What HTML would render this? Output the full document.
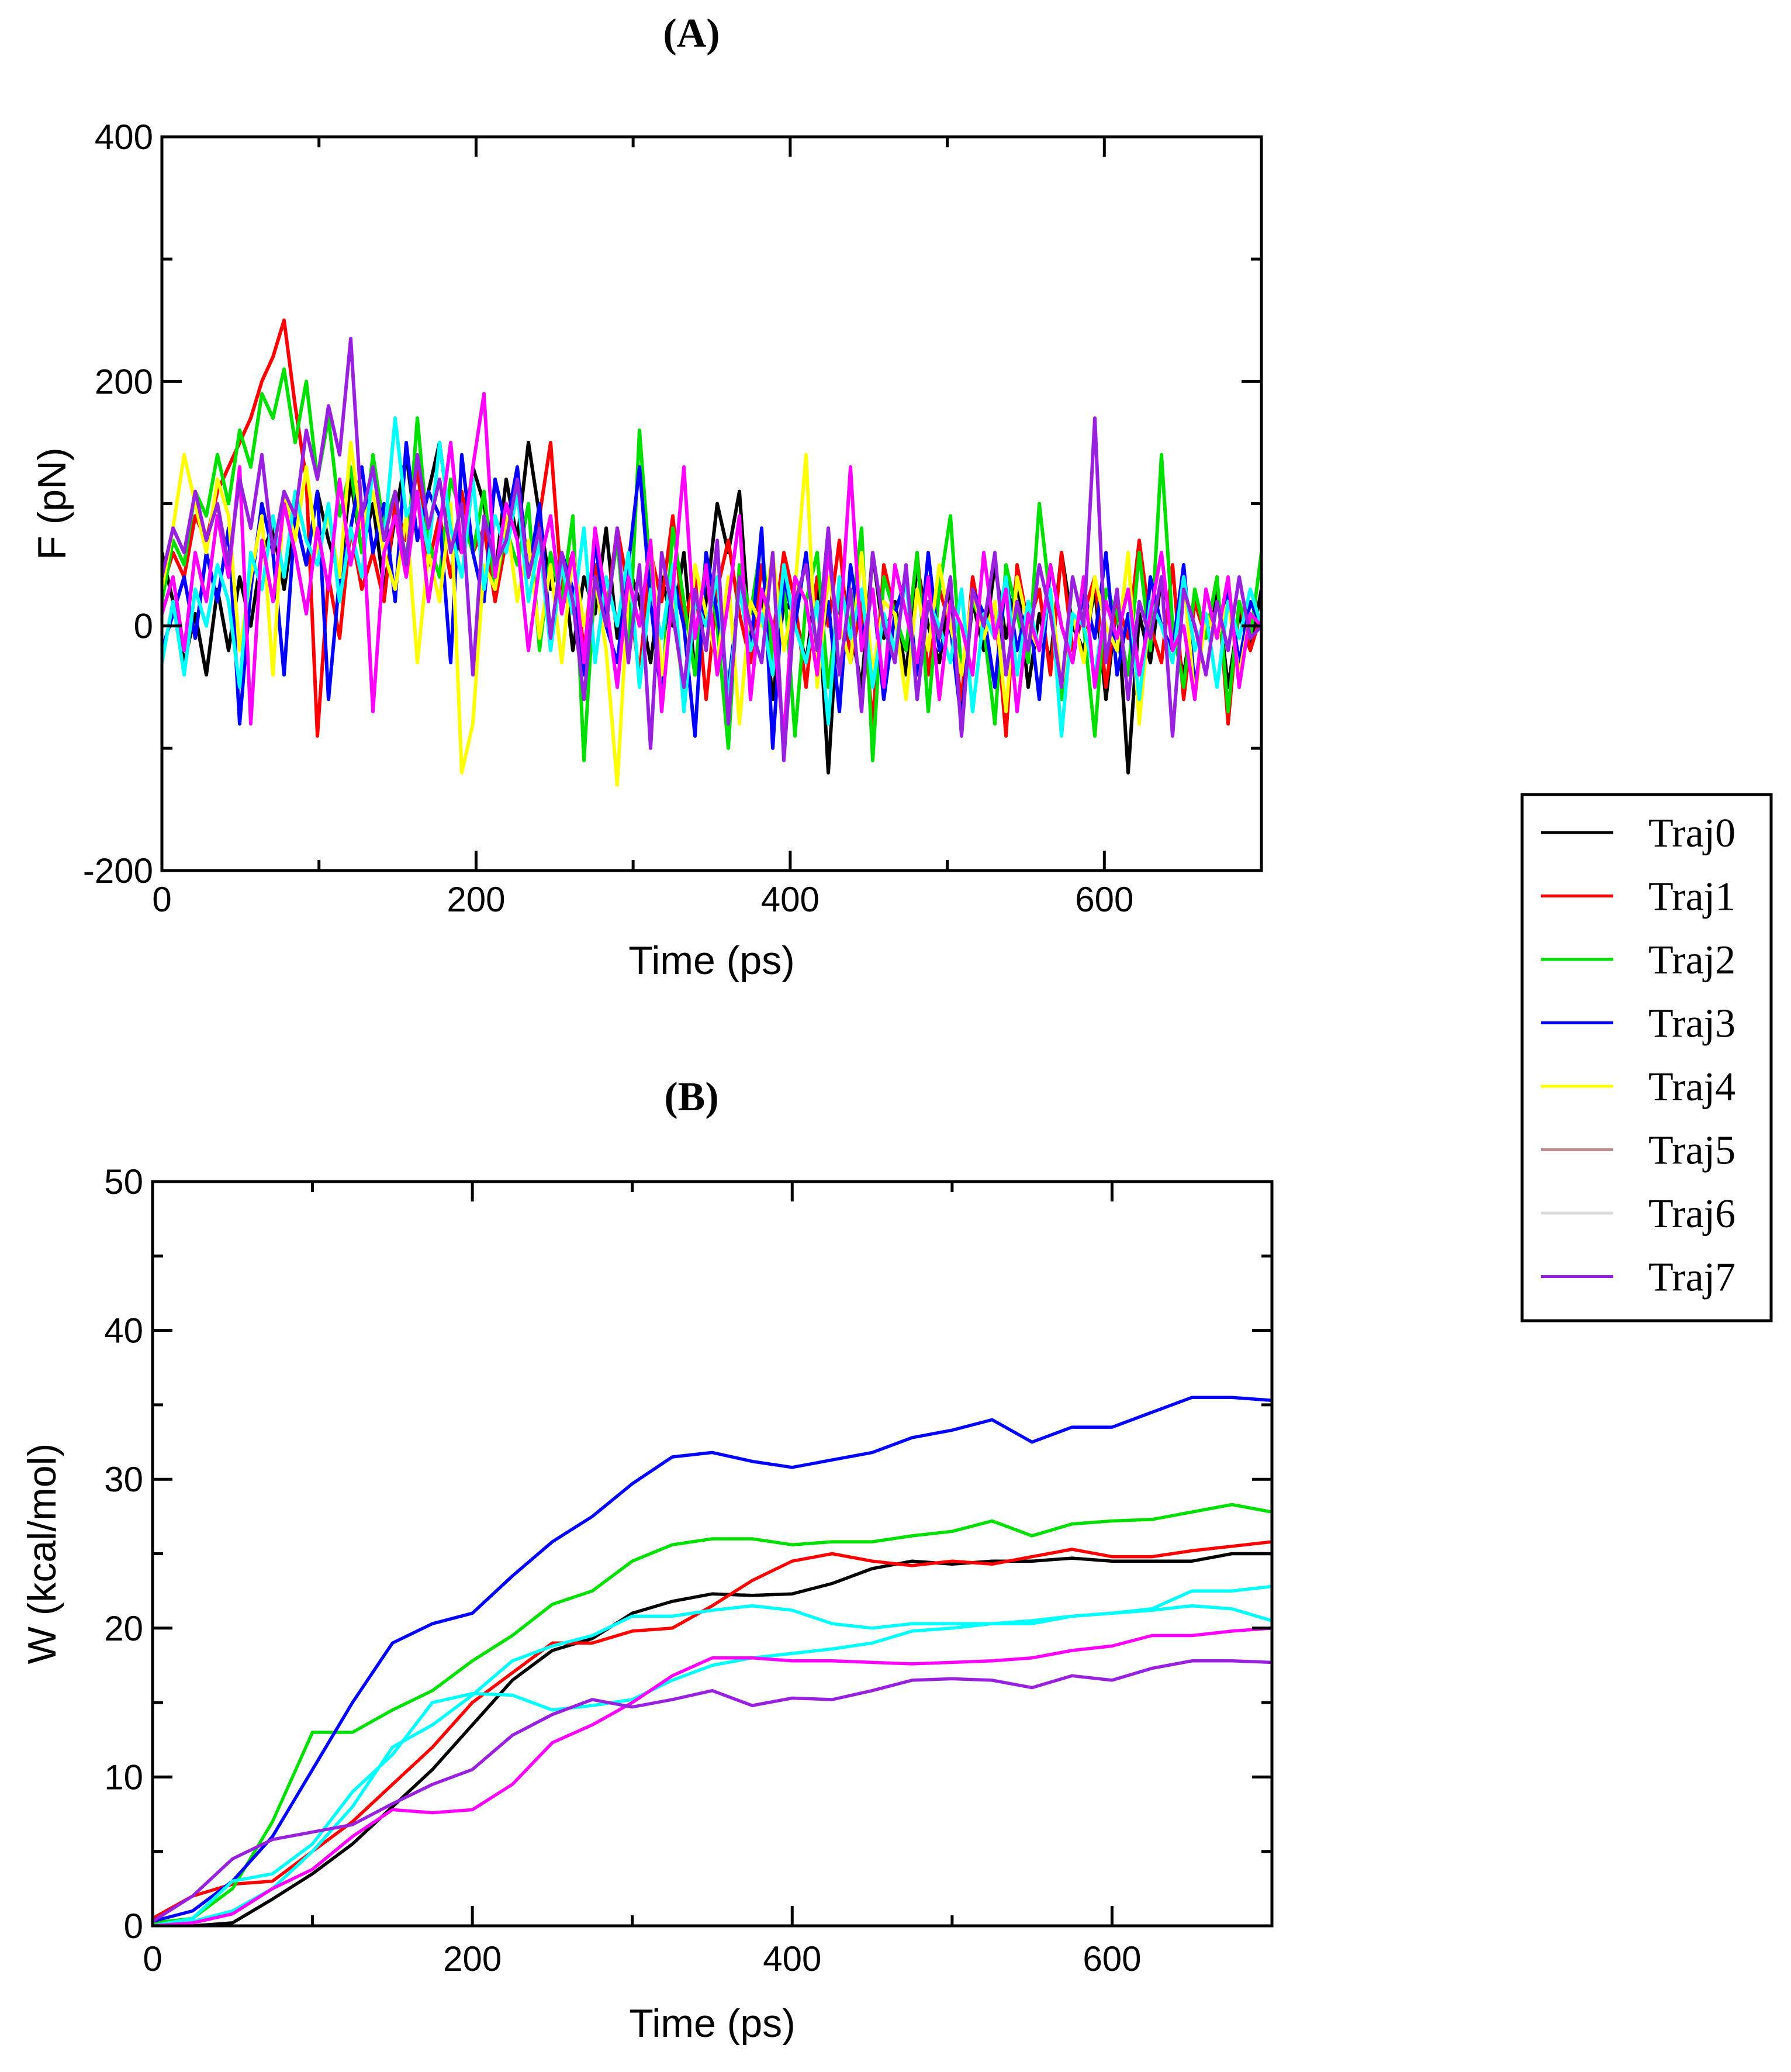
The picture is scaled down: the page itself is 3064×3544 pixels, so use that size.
<!DOCTYPE html>
<html><head><meta charset="utf-8">
<style>
html,body{margin:0;padding:0;background:#fff;}
svg{display:block;}
.tick{font-family:"Liberation Sans",sans-serif;font-size:60px;fill:#000;}
.atitle{font-family:"Liberation Sans",sans-serif;font-size:68px;fill:#000;}
.ptitle{font-family:"Liberation Serif",serif;font-size:70px;font-weight:bold;fill:#000;}
.leg{font-family:"Liberation Serif",serif;font-size:70px;fill:#000;}
</style></head>
<body>
<svg id="fig" width="3064" height="3544" viewBox="0 0 3064 3544" xmlns="http://www.w3.org/2000/svg">
<text class="ptitle" x="1183" y="80" text-anchor="middle">(A)</text>
<text class="ptitle" x="1183" y="1899" text-anchor="middle">(B)</text>
<g id="pa"></g>
<g id="pb"></g>
<g id="legend"></g>
</svg>
<script>
const trajNames = ["Traj0","Traj1","Traj2","Traj3","Traj4","Traj5","Traj6","Traj7"];
const plotColors = ["#000000","#ff0000","#00e000","#0000ff","#ffff00","#00ffff","#ff00ff","#9a20e0"];
const legendColors = ["#000000","#ff0000","#00e000","#0000ff","#ffff00","#bc8f8f","#dcdcdc","#9a20e0"];
const forceXTicks = [0,200,400,600];
const forceYTicks = [-200,0,200,400];
const workXTicks = [0,200,400,600];
const workYTicks = [0,10,20,30,40,50];

const force0 = [60,20,-30,10,-40,30,-20,40,0,60,80,30,90,50,110,70,40,120,60,100,30,90,140,70,110,150,80,60,130,100,40,120,70,150,90,30,60,-20,40,10,80,-10,50,20,-30,40,0,60,-40,20,100,60,110,-20,30,-60,20,10,-30,40,-120,30,0,-50,60,-10,20,-40,50,0,-30,30,-70,20,-20,50,-10,40,-50,10,-30,60,0,-20,30,-60,20,-120,10,-30,40,0,-40,20,-10,30,-50,10,-20,30];
const force1 = [30,60,40,90,70,110,130,150,170,200,220,250,180,120,-90,40,-10,80,30,60,20,100,70,130,50,90,40,110,60,80,20,70,130,40,90,150,30,60,-20,50,10,80,30,-40,60,20,90,0,40,-60,30,70,10,-30,50,-10,60,20,-50,40,0,70,-30,20,-80,50,10,-20,60,-40,30,0,-60,40,-10,20,-90,50,0,30,-40,60,-20,10,40,-50,20,-10,70,0,-30,50,-60,20,-10,40,-80,20,-20,10];
const force2 = [20,70,50,110,90,140,100,160,130,190,170,210,150,200,120,170,90,130,60,140,80,110,50,170,70,40,120,90,60,110,30,80,50,100,-20,60,20,90,-110,40,10,70,-30,160,40,-60,80,20,-40,60,0,-100,50,10,70,-30,40,-90,20,60,-50,30,0,80,-110,40,10,-20,60,-70,30,90,-40,20,0,-80,50,10,-30,100,20,-60,40,0,-90,30,10,-40,60,-20,140,0,-50,30,-10,40,-70,20,-10,60];
const force3 = [-20,10,40,-10,60,20,80,-80,30,100,60,-40,90,50,110,-60,40,80,130,60,100,20,150,70,110,90,-30,140,60,20,120,80,130,40,100,-10,60,30,-40,70,0,-30,50,130,20,-60,40,0,-90,60,10,-50,30,-20,80,-100,40,0,60,-30,20,-70,50,-10,30,-60,10,40,-40,60,-20,0,-80,30,10,-50,40,-20,20,-60,50,0,-30,30,-10,60,-40,10,-70,40,0,-20,50,-50,10,-10,30,-30,20,0];
const force4 = [30,80,140,100,60,120,90,-20,40,90,-40,110,70,130,60,90,40,150,80,110,60,30,90,-30,60,20,100,-120,-80,50,30,90,20,70,-10,50,-30,60,0,40,-20,-130,30,0,70,-40,20,-60,50,10,-30,40,-80,20,0,60,-20,30,140,-50,40,0,-30,60,-40,20,10,-60,30,-20,50,0,-40,30,-10,20,-70,40,0,-20,30,-50,10,-30,40,0,-20,60,-80,20,0,-30,40,-60,10,-10,20,-40,10,0];
const force5 = [-30,20,-40,30,0,50,20,-50,60,30,90,40,110,70,50,100,20,80,40,130,70,170,90,110,60,150,80,40,120,30,90,60,110,20,70,-20,50,10,80,-30,40,0,60,-50,30,-10,50,-70,20,0,40,-60,30,-20,10,-40,50,0,-30,20,-80,40,-10,30,-50,10,-20,40,-60,20,0,-30,30,-70,10,-10,40,-40,20,-20,30,-90,10,0,-40,20,-10,30,-60,20,0,-30,40,-20,10,-50,20,-10,30,0];
const force6 = [10,40,-20,60,20,90,40,130,-80,70,20,100,60,10,80,30,120,50,100,-70,60,90,40,110,20,80,150,60,130,190,40,100,70,-20,50,90,10,60,-30,80,20,-50,40,0,70,-70,30,130,-10,50,-40,20,90,-60,30,0,-90,40,20,-40,60,-10,130,-20,30,-50,50,10,-30,40,-60,20,0,-40,60,-10,30,-70,10,-20,50,0,-30,40,-50,20,-10,30,-40,10,60,-20,0,-60,30,-10,40,-50,10,0];
const force7 = [40,80,60,110,70,100,50,120,80,140,60,110,90,160,120,180,140,235,90,130,70,110,50,140,80,120,60,100,-40,90,50,70,120,40,80,-10,60,20,-60,40,0,80,-30,50,-100,60,10,-50,30,-20,70,-80,40,0,-30,60,-110,20,50,-20,80,-40,30,-70,60,0,-30,50,-60,20,-10,40,-90,30,0,60,-40,20,-20,50,10,-50,40,0,170,-30,30,-60,20,-10,40,-90,30,0,-40,20,-20,40,-10,0];

const workTime = [0,25,50,75,100,125,150,175,200,225,250,275,300,325,350,375,400,425,450,475,500,525,550,575,600,625,650,675,700];
const work0 = [0.1,0,0.2,1.8,3.5,5.5,8,10.5,13.5,16.5,18.5,19.3,21,21.8,22.3,22.2,22.3,23,24,24.5,24.3,24.5,24.5,24.7,24.5,24.5,24.5,25,25];
const work1 = [0.5,2,2.8,3,5,7,9.5,12,15,17,19,19,19.8,20,21.5,23.2,24.5,25,24.5,24.2,24.5,24.3,24.8,25.3,24.8,24.8,25.2,25.5,25.8];
const work2 = [0.2,0.5,2.5,7,13,13,14.5,15.8,17.8,19.5,21.6,22.5,24.5,25.6,26,26,25.6,25.8,25.8,26.2,26.5,27.2,26.2,27,27.2,27.3,27.8,28.3,27.8];
const work3 = [0.3,1,3,6,10.5,15,19,20.3,21,23.5,25.8,27.5,29.7,31.5,31.8,31.2,30.8,31.3,31.8,32.8,33.3,34,32.5,33.5,33.5,34.5,35.5,35.5,35.3];
const work4 = [0,0.3,1,2.5,5,8,12,13.5,15.5,17.8,18.8,19.5,20.8,20.8,21.2,21.5,21.2,20.3,20,20.3,20.3,20.3,20.3,20.8,21,21.2,21.5,21.3,20.5];
const work5 = [0,0.5,3,3.5,5.5,9,11.5,15,15.6,15.5,14.5,14.8,15.2,16.5,17.5,18,18.3,18.6,19,19.8,20,20.3,20.5,20.8,21,21.3,22.5,22.5,22.8];
const work6 = [0,0.2,0.8,2.5,3.8,6,7.8,7.6,7.8,9.5,12.3,13.5,15,16.8,18,18,17.8,17.8,17.7,17.6,17.7,17.8,18,18.5,18.8,19.5,19.5,19.8,20];
const work7 = [0.3,2,4.5,5.8,6.3,6.8,8.2,9.5,10.5,12.8,14.2,15.2,14.7,15.2,15.8,14.8,15.3,15.2,15.8,16.5,16.6,16.5,16,16.8,16.5,17.3,17.8,17.8,17.7];

const NS="http://www.w3.org/2000/svg";
function mk(tag,parent,attrs){const e=document.createElementNS(NS,tag);for(const k in attrs)e.setAttribute(k,attrs[k]);parent.appendChild(e);return e;}

function drawAxes(g,box,xd,yd,xt,yt,xMinorStep,yMinorStep,xTitle,yTitle,xtY,ytX,xTitleY,yTitleX,prefix){
  const X=v=>box.l+(v-xd[0])/(xd[1]-xd[0])*(box.r-box.l);
  const Y=v=>box.b-(v-yd[0])/(yd[1]-yd[0])*(box.b-box.t);
  for(let v=xd[0];v<=xd[1]+1e-9;v+=xMinorStep){
    const major=xt.includes(v);const L=major?34:18;
    const t1=mk('line',g,{x1:X(v),x2:X(v),y1:box.b,y2:box.b-L,stroke:'#000','stroke-width':5});
    
    
    const t2=mk('line',g,{x1:X(v),x2:X(v),y1:box.t,y2:box.t+L,stroke:'#000','stroke-width':5});
    
    
  }
  for(let v=yd[0];v<=yd[1]+1e-9;v+=yMinorStep){
    const major=yt.includes(v);const L=major?34:18;
    const t1=mk('line',g,{x1:box.l,x2:box.l+L,y1:Y(v),y2:Y(v),stroke:'#000','stroke-width':5});
    
    
    const t2=mk('line',g,{x1:box.r,x2:box.r-L,y1:Y(v),y2:Y(v),stroke:'#000','stroke-width':5});
    
    
  }
  xt.forEach(v=>{const t=mk('text',g,{x:X(v),y:xtY,'text-anchor':'middle',class:'tick'});t.textContent=v;
    
    });
  yt.forEach(v=>{const t=mk('text',g,{x:ytX,y:Y(v)+21,'text-anchor':'end',class:'tick'});t.textContent=v;
    
    });
  const xtt=mk('text',g,{x:(box.l+box.r)/2,y:xTitleY,'text-anchor':'middle',class:'atitle'});xtt.textContent=xTitle;
  
  
  const ytt=mk('text',g,{x:0,y:0,'text-anchor':'middle',class:'atitle',transform:`translate(${yTitleX},${(box.t+box.b)/2}) rotate(-90)`});ytt.textContent=yTitle;
  
  
  return {X,Y};
}

// Panel A
const pa=document.getElementById('pa');
const boxA={l:277,r:2158,t:234,b:1489};
const clipA=mk('clipPath',document.getElementById('fig'),{id:'ca'});
mk('rect',clipA,{x:boxA.l,y:boxA.t,width:boxA.r-boxA.l,height:boxA.b-boxA.t});
const forces=[force0,force1,force2,force3,force4,force5,force6,force7];
const sa=(()=>{const X=v=>boxA.l+v/700*(boxA.r-boxA.l);const Y=v=>boxA.b-(v+200)/600*(boxA.b-boxA.t);return {X,Y};})();
forces.forEach((arr,k)=>{
  const step=700/(arr.length-1);
  const d=arr.map((v,i)=>(i?'L':'M')+sa.X(i*step).toFixed(1)+' '+sa.Y(v).toFixed(1)).join(' ');
  const p=mk('path',pa,{d:d,fill:'none',stroke:plotColors[k],'stroke-width':6,'clip-path':'url(#ca)','stroke-linejoin':'round'});
  
  
});
const frA=mk('rect',pa,{x:boxA.l,y:boxA.t,width:boxA.r-boxA.l,height:boxA.b-boxA.t,fill:'none',stroke:'#000','stroke-width':5});


drawAxes(pa,boxA,[0,700],[-200,400],forceXTicks,forceYTicks,100,100,'Time (ps)','F (pN)',1559,262,1666,112,'force-');

// Panel B
const pb=document.getElementById('pb');
const boxB={l:261,r:2176,t:2021,b:3294};
const clipB=mk('clipPath',document.getElementById('fig'),{id:'cb'});
mk('rect',clipB,{x:boxB.l,y:boxB.t,width:boxB.r-boxB.l,height:boxB.b-boxB.t});
const works=[work0,work1,work2,work3,work4,work5,work6,work7];
const workColors=["#000000","#ff0000","#00e000","#0000ff","#00ffff","#00ffff","#ff00ff","#9a20e0"];
const sb=(()=>{const X=v=>boxB.l+v/700*(boxB.r-boxB.l);const Y=v=>boxB.b-v/50*(boxB.b-boxB.t);return {X,Y};})();
works.forEach((arr,k)=>{
  const d=arr.map((v,i)=>(i?'L':'M')+sb.X(workTime[i]).toFixed(1)+' '+sb.Y(v).toFixed(1)).join(' ');
  const p=mk('path',pb,{d:d,fill:'none',stroke:workColors[k],'stroke-width':5.5,'clip-path':'url(#cb)','stroke-linejoin':'round'});
  
  
});
const frB=mk('rect',pb,{x:boxB.l,y:boxB.t,width:boxB.r-boxB.l,height:boxB.b-boxB.t,fill:'none',stroke:'#000','stroke-width':5});


drawAxes(pb,boxB,[0,700],[0,50],workXTicks,workYTicks,100,5,'Time (ps)','W (kcal/mol)',3371,245,3484,95,'work-');

// Legend
const lg=document.getElementById('legend');
const lb=mk('rect',lg,{x:2604,y:1359,width:426,height:900,fill:'#fff',stroke:'#000','stroke-width':5});


trajNames.forEach((n,i)=>{
  const y=1424+i*108.5;
  const l=mk('line',lg,{x1:2636,x2:2760,y1:y,y2:y,stroke:legendColors[i],'stroke-width':5});
  
  
  const t=mk('text',lg,{x:2820,y:y+24,class:'leg'});t.textContent=n;
  
  
});
</script>
</body></html>
